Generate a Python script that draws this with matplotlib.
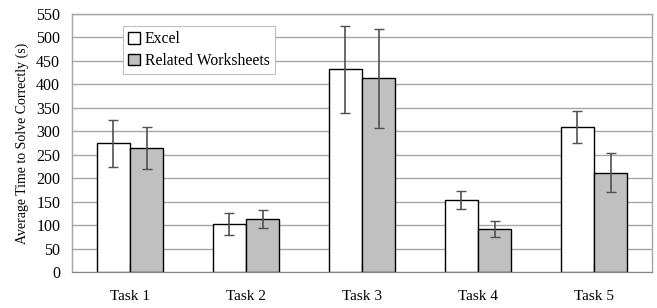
import matplotlib
matplotlib.use("Agg")
import matplotlib.pyplot as plt
import numpy as np

categories = ["Task 1", "Task 2", "Task 3", "Task 4", "Task 5"]
excel = [274, 102, 432, 153, 309]
excel_err = [51, 23, 93, 19, 35]
related = [264, 113, 413, 91, 212]
related_err = [45, 20, 105, 17, 41]
series_names = ["Excel", "Related Worksheets"]
yticks = list(range(0, 551, 50))

plt.rcParams['font.family'] = ['Liberation Serif', 'DejaVu Serif']

fig = plt.figure(figsize=(6.57, 3.08), dpi=100)
ax = fig.add_axes([72/657, 36/308, 580/657, 258/308])

x = np.arange(len(categories))
w = 0.2857
ekw = dict(ecolor='#505050', elinewidth=1.2, capsize=3.5, capthick=1.0)
ax.bar(x - w/2, excel, w, color='white', edgecolor='black', linewidth=1.0,
       yerr=excel_err, error_kw=ekw, label=series_names[0], zorder=3)
ax.bar(x + w/2, related, w, color='#c0c0c0', edgecolor='black', linewidth=1.0,
       yerr=related_err, error_kw=ekw, label=series_names[1], zorder=3)

ax.set_xlim(-0.5, len(categories) - 0.5)
ax.set_ylim(0, 550)
ax.set_yticks(yticks)
ax.set_xticks(x)
ax.set_xticklabels(categories, fontsize=11)
ax.tick_params(axis='y', labelsize=11.5, length=0, pad=8.5)
ax.tick_params(axis='x', length=0, pad=13)
ax.yaxis.grid(True, color='#a6a6a6', linewidth=1.0, zorder=0)
ax.set_axisbelow(True)
for s in ['top', 'right', 'left']:
    ax.spines[s].set_color('#a6a6a6')
    ax.spines[s].set_linewidth(1.0)
ax.spines['bottom'].set_color('#808080')
ax.set_ylabel("Average Time to Solve Correctly (s)", fontsize=10, labelpad=5)

leg = ax.legend(loc='upper left', bbox_to_anchor=(51/580, 1 - 12/258), fontsize=11.3,
                frameon=True, fancybox=False, edgecolor='#c0c0c0', framealpha=1,
                handlelength=0.75, handleheight=0.75, handletextpad=0.3,
                borderpad=0.35, labelspacing=0.35, borderaxespad=0)
leg.get_frame().set_linewidth(0.8)

fig.savefig("out.png", dpi=100)
